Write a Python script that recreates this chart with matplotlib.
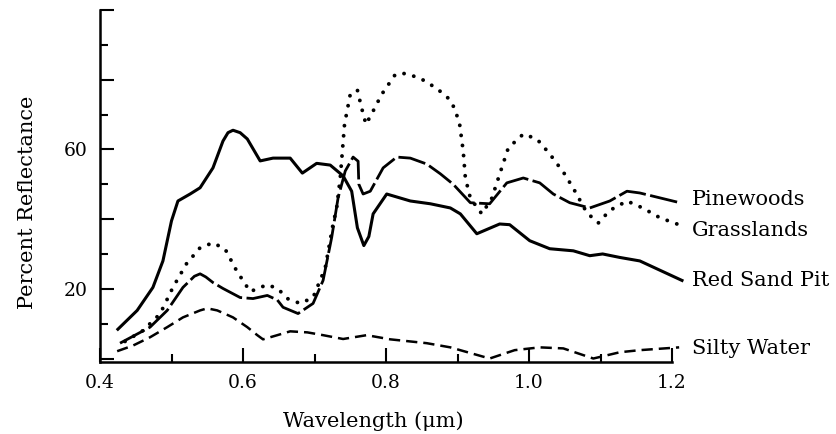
import matplotlib
matplotlib.use("Agg")
import matplotlib.pyplot as plt
from matplotlib.ticker import MultipleLocator, FixedLocator, FixedFormatter

plt.rcParams['font.family'] = ['DejaVu Serif']

# wavelength in micrometres, reflectance in percent
red_sand_x = [0.425, 0.452, 0.474, 0.488, 0.50, 0.509, 0.526, 0.54, 0.558, 0.572,
              0.579, 0.586, 0.596, 0.606, 0.624, 0.642, 0.666, 0.683, 0.703, 0.722,
              0.74, 0.752, 0.76, 0.769, 0.776, 0.782, 0.801, 0.834, 0.862, 0.89,
              0.904, 0.927, 0.959, 0.973, 1.001, 1.029, 1.062, 1.085, 1.103, 1.127,
              1.155, 1.214]
red_sand_y = [8.4, 13.8, 20.4, 28, 39.5, 45.2, 47.2, 49, 54.7, 62.4,
              64.8, 65.5, 64.8, 63, 56.7, 57.5, 57.5, 53.2, 56, 55.5,
              52.4, 48, 37.5, 32.4, 35, 41.5, 47.2, 45.2, 44.4, 43.2,
              41.5, 35.8, 38.6, 38.4, 33.8, 31.5, 30.9, 29.5, 30, 29,
              28, 22.4]

pine_x = [0.428, 0.47, 0.494, 0.516, 0.532, 0.54, 0.548, 0.558, 0.572, 0.596,
          0.614, 0.634, 0.648, 0.656, 0.677, 0.698, 0.712, 0.724, 0.733, 0.743,
          0.754, 0.761, 0.762, 0.768, 0.778, 0.796, 0.815, 0.834, 0.857, 0.876,
          0.894, 0.918, 0.945, 0.969, 0.992, 1.015, 1.034, 1.057, 1.085, 1.113,
          1.137, 1.155, 1.211]
pine_y = [4.4, 9, 13.8, 20.4, 23.6, 24.3, 23.4, 21.8, 20.1, 17.5,
          17.2, 18.1, 16.8, 14.7, 12.9, 15.8, 22.4, 34.7, 46.1, 53.8,
          57.8, 56.6, 50, 47.2, 48, 54.7, 57.8, 57.5, 55.8, 53,
          50, 44.7, 44.4, 50.4, 51.8, 50.4, 47.2, 44.7, 43.2, 45.2,
          48, 47.5, 44.7]

grass_x = [0.435, 0.46, 0.484, 0.502, 0.521, 0.54, 0.558, 0.575, 0.591, 0.61,
           0.634, 0.649, 0.662, 0.68, 0.698, 0.715, 0.726, 0.731, 0.736, 0.739,
           0.742, 0.75, 0.76, 0.766, 0.772, 0.782, 0.794, 0.813, 0.827, 0.848,
           0.871, 0.887, 0.896, 0.903, 0.908, 0.911, 0.918, 0.934, 0.948, 0.959,
           0.971, 0.992, 1.011, 1.029, 1.05, 1.064, 1.081, 1.097, 1.113, 1.137,
           1.159, 1.183, 1.207]
grass_y = [4.9, 8, 12.8, 20.4, 27.2, 31.8, 33.2, 31.4, 25.2, 19.2,
           21.2, 20, 17.2, 15.8, 17.5, 26, 38.6, 43.2, 51.8, 59.5,
           67.2, 75.8, 77, 71.8, 67.2, 71, 75.8, 81.5, 81.8, 80.4,
           77.5, 74.7, 71.8, 67.2, 59.5, 51.8, 46, 41.5, 46, 52.9,
           60.4, 64.4, 63, 58.7, 52.9, 48.1, 41.8, 38.9, 42.5, 45.2,
           43.2, 40.4, 38.6]

water_x = [0.424, 0.446, 0.47, 0.494, 0.516, 0.54, 0.55, 0.564, 0.586, 0.606,
           0.62, 0.628, 0.648, 0.666, 0.69, 0.712, 0.74, 0.773, 0.806, 0.857,
           0.89, 0.945, 0.98, 1.015, 1.048, 1.09, 1.127, 1.155, 1.21]
water_y = [2.1, 3.7, 6.1, 9, 11.8, 13.8, 14.4, 13.8, 11.8, 9,
           6.7, 5.5, 6.7, 7.8, 7.5, 6.7, 5.6, 6.7, 5.5, 4.4,
           3.2, 0, 2.4, 3.2, 2.9, 0, 1.8, 2.4, 3.2]

labels = ['Pinewoods', 'Grasslands', 'Red Sand Pit', 'Silty Water']

fig = plt.figure(figsize=(8.37, 4.34), dpi=100)
ax = fig.add_axes([100/837, 72/434, 572/837, 352/434])

ax.plot(red_sand_x, red_sand_y, color='black', lw=2.2, solid_joinstyle='round',
        clip_on=False)
ax.plot(pine_x, pine_y, color='black', lw=2.0, linestyle=(0, (10, 1.6)),
        dash_joinstyle='round', clip_on=False)
ax.plot(grass_x, grass_y, color='black', lw=2.8, linestyle=(0, (0.01, 2.6)),
        dash_capstyle='round', clip_on=False)
ax.plot(water_x, water_y, color='black', lw=1.8, linestyle=(0, (4.5, 2.4)),
        clip_on=False)

ax.set_xlim(0.4, 1.2)
ax.set_ylim(-1, 100)

for side in ['top', 'right']:
    ax.spines[side].set_visible(False)
for side in ['left', 'bottom']:
    ax.spines[side].set_linewidth(1.8)

ax.xaxis.set_major_locator(FixedLocator([0.4, 0.6, 0.8, 1.0, 1.2]))
ax.xaxis.set_major_formatter(FixedFormatter(['0.4', '0.6', '0.8', '1.0', '1.2']))
ax.xaxis.set_minor_locator(MultipleLocator(0.1))
ax.yaxis.set_major_locator(FixedLocator([0, 20, 40, 60, 80, 100]))
ax.yaxis.set_major_formatter(FixedFormatter(['', '20', '', '60', '', '']))
ax.yaxis.set_minor_locator(MultipleLocator(10))

ax.tick_params(which='major', direction='in', length=10, width=1.5,
               labelsize=13.5, pad=9)
ax.tick_params(which='minor', direction='in', length=5.5, width=1.5)

fig.text(28/837, 1 - 202/434, 'Percent Reflectance', rotation=90,
         ha='center', va='center', fontsize=15)
fig.text(373/837, 1 - 421/434, 'Wavelength (\u03bcm)',
         ha='center', va='center', fontsize=15)

label_y = [199, 231, 281, 348]
for name, py in zip(labels, label_y):
    fig.text(692/837, 1 - py/434, name, ha='left', va='center', fontsize=15)

fig.savefig('out.png', dpi=100, facecolor='white')
